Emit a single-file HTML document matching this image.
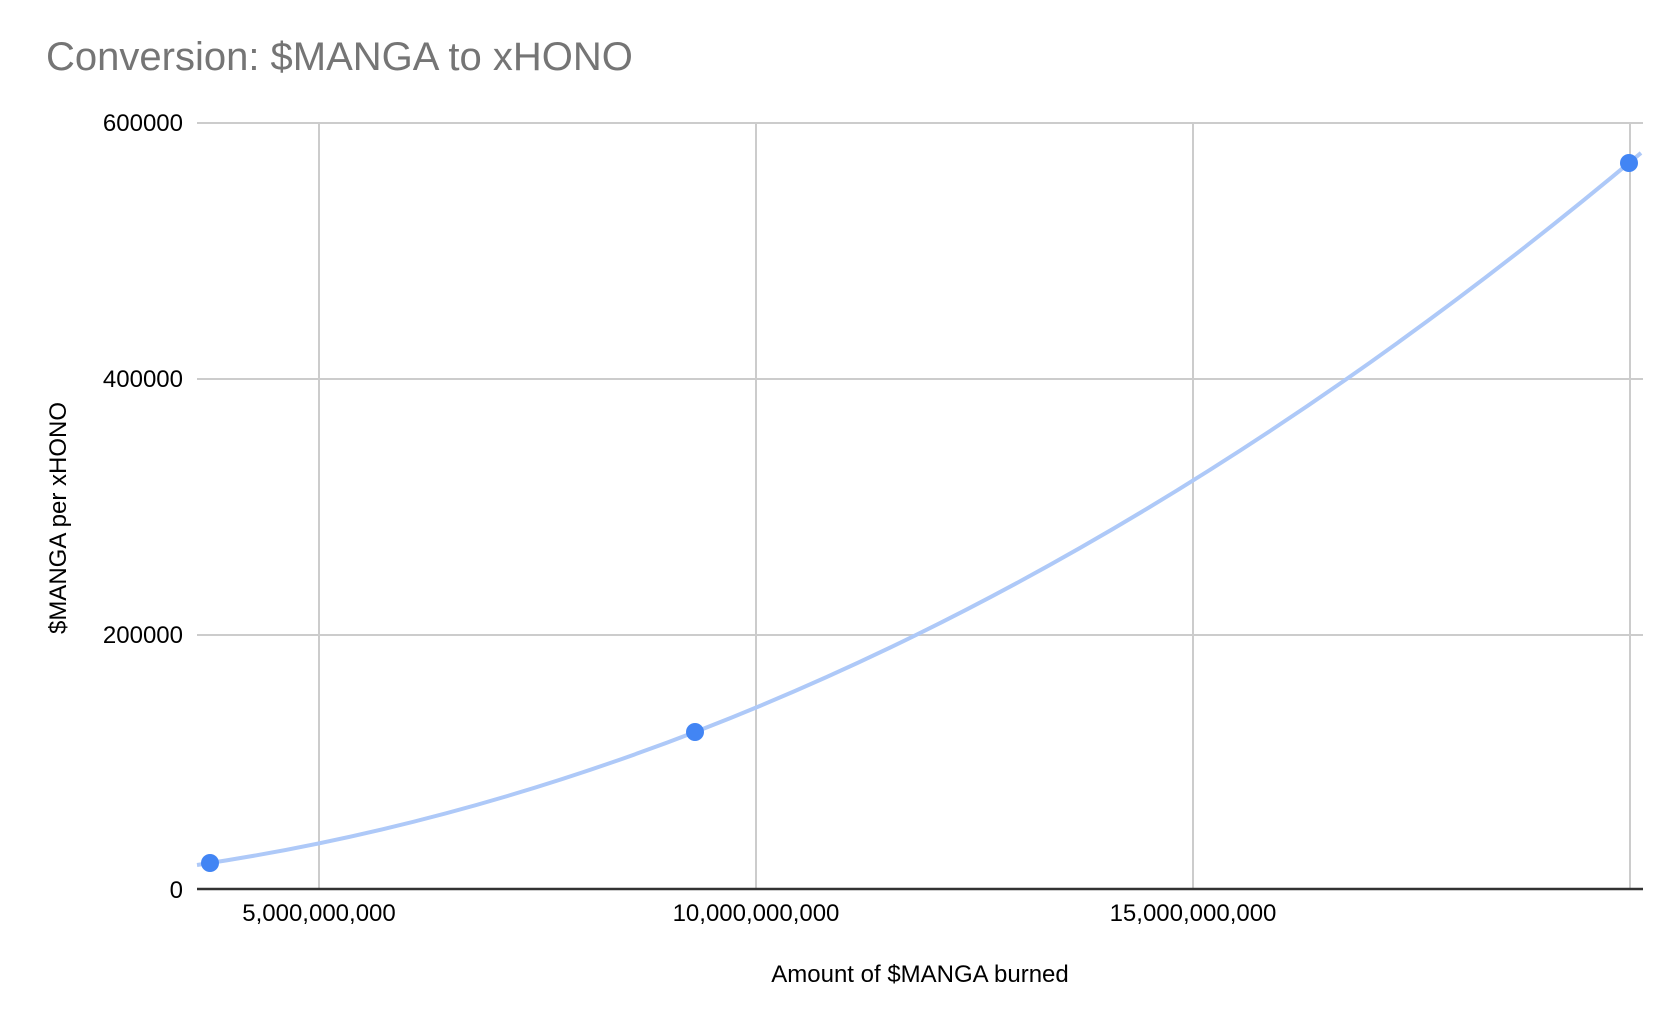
<!DOCTYPE html>
<html>
<head>
<meta charset="utf-8">
<style>
  html, body { margin: 0; padding: 0; background: #ffffff; }
  svg { display: block; }
  text { font-family: "Liberation Sans", Arial, Helvetica, sans-serif; }
</style>
</head>
<body>
<svg width="1662" height="1020" viewBox="0 0 1662 1020" xmlns="http://www.w3.org/2000/svg">
  <rect x="0" y="0" width="1662" height="1020" fill="#ffffff"/>

  <!-- Title -->
  <text x="46" y="70" font-size="40" fill="#757575">Conversion: $MANGA to xHONO</text>

  <!-- Horizontal gridlines -->
  <g stroke="#cccccc" stroke-width="2">
    <line x1="197" y1="123" x2="1643" y2="123"/>
    <line x1="197" y1="379" x2="1643" y2="379"/>
    <line x1="197" y1="635" x2="1643" y2="635"/>
  </g>
  <!-- Vertical gridlines -->
  <g stroke="#cccccc" stroke-width="2">
    <line x1="319" y1="123" x2="319" y2="889"/>
    <line x1="756" y1="123" x2="756" y2="889"/>
    <line x1="1193" y1="123" x2="1193" y2="889"/>
    <line x1="1630" y1="123" x2="1630" y2="889"/>
  </g>

  <!-- Baseline axis -->
  <line x1="197" y1="889" x2="1643" y2="889" stroke="#333333" stroke-width="2.5"/>

  <!-- Y tick labels -->
  <g font-size="24" fill="#000000" text-anchor="end">
    <text x="183" y="131">600000</text>
    <text x="183" y="387">400000</text>
    <text x="183" y="643">200000</text>
    <text x="183" y="898">0</text>
  </g>

  <!-- X tick labels -->
  <g font-size="24" fill="#000000" text-anchor="middle">
    <text x="319" y="921">5,000,000,000</text>
    <text x="756" y="921">10,000,000,000</text>
    <text x="1193" y="921">15,000,000,000</text>
  </g>

  <!-- Axis titles -->
  <text x="920" y="982" font-size="24" fill="#000000" text-anchor="middle">Amount of $MANGA burned</text>
  <text x="0" y="0" font-size="24" fill="#000000" text-anchor="middle" transform="translate(66,518) rotate(-90)">$MANGA per xHONO</text>

  <!-- Trend curve -->
  <path d="M197,864.96 Q919,758.12 1641,152.97" fill="none" stroke="#aec9f8" stroke-width="4" stroke-linecap="butt"/>

  <!-- Points -->
  <g fill="#4285f4">
    <circle cx="210" cy="863" r="9"/>
    <circle cx="695" cy="732" r="9"/>
    <circle cx="1629" cy="163" r="9"/>
  </g>
</svg>
</body>
</html>
